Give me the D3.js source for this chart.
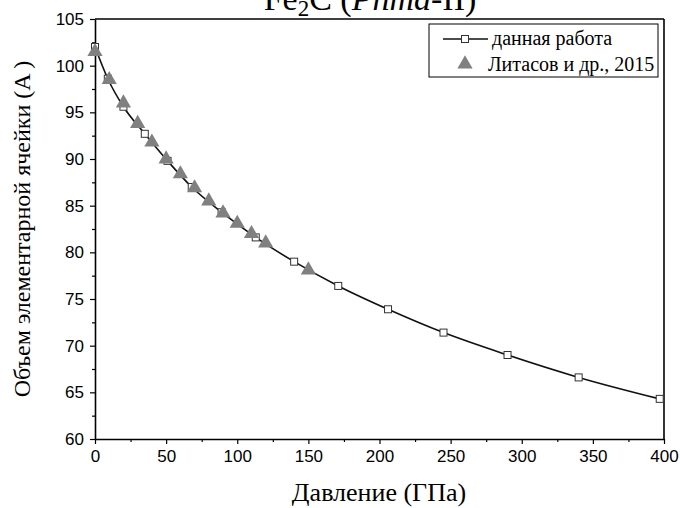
<!DOCTYPE html>
<html>
<head>
<meta charset="utf-8">
<script src="https://cdn.jsdelivr.net/npm/d3@7"></script>
<style>
  body { margin: 0; background: #fff; }
  svg { display: block; }
</style>
</head>
<body>
<svg id="chart"></svg>
<script>
// данная работа (squares + line)
const calcPressure = [0, 9, 20, 35, 51, 68, 89, 113, 140, 171, 206, 245, 290, 340, 397];
const calcVolume   = [102.0, 98.6, 95.6, 92.7, 89.8, 87.0, 84.3, 81.6, 79.0, 76.4, 73.9, 71.4, 69.0, 66.6, 64.3];

// Литасов и др., 2015 (triangles)
const litPressure = [0, 10, 20, 30, 40, 50, 60, 70, 80, 90, 100, 110, 120, 150];
const litVolume   = [101.5, 98.5, 96.0, 93.8, 91.8, 90.0, 88.4, 86.9, 85.5, 84.2, 83.1, 82.0, 81.0, 78.1];

const xTicks = [0, 50, 100, 150, 200, 250, 300, 350, 400];
const yTicks = [60, 65, 70, 75, 80, 85, 90, 95, 100, 105];
const legendLabels = ['данная работа', 'Литасов и др., 2015'];

const W = 680, H = 508;
const margin = { top: 19, right: 16, bottom: 69, left: 95 };
const width = W - margin.left - margin.right;
const height = H - margin.top - margin.bottom;

const svg = d3.select('#chart').attr('width', W).attr('height', H);
const chart = svg.append('g')
    .attr('transform', `translate(${margin.left},${margin.top})`);

const x = d3.scaleLinear().domain([0, 400]).range([0, width]);
const y = d3.scaleLinear().domain([60, 105]).range([height, 0]);

// minor ticks
const xMinor = d3.range(25, 400, 50);
const yMinor = d3.range(62.5, 105, 5);

chart.append('g')
    .attr('transform', `translate(0,${height})`)
    .call(d3.axisBottom(x).tickValues(xMinor).tickSize(3).tickFormat(''))
    .call(g => g.select('.domain').remove())
    .selectAll('line').attr('stroke-width', 1.2);

chart.append('g')
    .call(d3.axisLeft(y).tickValues(yMinor).tickSize(3).tickFormat(''))
    .call(g => g.select('.domain').remove())
    .selectAll('line').attr('stroke-width', 1.2);

// major axes
const xAxisG = chart.append('g')
    .attr('transform', `translate(0,${height})`)
    .call(d3.axisBottom(x).tickValues(xTicks).tickSize(5).tickSizeOuter(0).tickPadding(6));

const yAxisG = chart.append('g')
    .call(d3.axisLeft(y).tickValues(yTicks).tickSize(5).tickSizeOuter(0).tickPadding(6));

[xAxisG, yAxisG].forEach(g => {
    g.select('.domain').attr('stroke-width', 1.6);
    g.selectAll('.tick line').attr('stroke-width', 1.2);
    g.selectAll('.tick text')
        .style('font-family', '"Liberation Sans", Arial, sans-serif')
        .style('font-size', '17px')
        .attr('fill', '#000');
});

// top and right frame
chart.append('line')
    .attr('x1', 0).attr('x2', width).attr('y1', 0).attr('y2', 0)
    .attr('stroke', '#000').attr('stroke-width', 1.6);
chart.append('line')
    .attr('x1', width).attr('x2', width).attr('y1', 0).attr('y2', height)
    .attr('stroke', '#000').attr('stroke-width', 1.6);

// line through calculated points
const calcData = calcPressure.map((p, i) => ({ p: p, v: calcVolume[i] }));
const litData = litPressure.map((p, i) => ({ p: p, v: litVolume[i] }));

const line = d3.line()
    .x(d => x(d.p))
    .y(d => y(d.v))
    .curve(d3.curveMonotoneX);

chart.append('path')
    .datum(calcData)
    .attr('d', line)
    .attr('fill', 'none')
    .attr('stroke', '#111')
    .attr('stroke-width', 1.6);

const sq = 7;
chart.selectAll('rect.calc')
    .data(calcData)
    .enter()
    .append('rect')
    .attr('class', 'calc')
    .attr('x', d => x(d.p) - sq / 2)
    .attr('y', d => y(d.v) - sq / 2)
    .attr('width', sq)
    .attr('height', sq)
    .attr('fill', '#fff')
    .attr('stroke', '#333')
    .attr('stroke-width', 1);

const tri = d3.symbol().type(d3.symbolTriangle).size(100);
chart.selectAll('path.lit')
    .data(litData)
    .enter()
    .append('path')
    .attr('class', 'lit')
    .attr('d', tri)
    .attr('transform', d => `translate(${x(d.p)},${y(d.v)})`)
    .attr('fill', '#808080');

// legend
const legend = svg.append('g').attr('transform', 'translate(429,24)');
legend.append('rect')
    .attr('width', 229).attr('height', 53)
    .attr('fill', '#fff').attr('stroke', '#000').attr('stroke-width', 1);

legend.append('line')
    .attr('x1', 14).attr('x2', 59).attr('y1', 15).attr('y2', 15)
    .attr('stroke', '#111').attr('stroke-width', 1.6);
legend.append('rect')
    .attr('x', 36 - sq / 2).attr('y', 15 - sq / 2)
    .attr('width', sq).attr('height', sq)
    .attr('fill', '#fff').attr('stroke', '#333');
legend.append('path')
    .attr('d', tri)
    .attr('transform', 'translate(36,40)')
    .attr('fill', '#808080');

legend.selectAll('text')
    .data(legendLabels)
    .enter()
    .append('text')
    .attr('x', (d, i) => i === 0 ? 63 : 59)
    .attr('y', (d, i) => i === 0 ? 21 : 47)
    .style('font-family', '"Liberation Serif", "Times New Roman", serif')
    .style('font-size', '20px')
    .text(d => d);

// title (cut off at the top)
const title = svg.append('text')
    .attr('x', 370)
    .attr('y', 10)
    .attr('text-anchor', 'middle')
    .style('font-family', '"Liberation Serif", "Times New Roman", serif')
    .style('font-size', '34px');
title.append('tspan').text('Fe');
title.append('tspan').attr('dy', 6).style('font-size', '23px').text('2');
title.append('tspan').attr('dy', -6).text('C (');
title.append('tspan').style('font-style', 'italic').text('Pnma');
title.append('tspan').text('-II)');

// axis titles
svg.append('text')
    .attr('x', 379)
    .attr('y', 501)
    .attr('text-anchor', 'middle')
    .style('font-family', '"Liberation Serif", "Times New Roman", serif')
    .style('font-size', '26px')
    .text('Давление (ГПа)');

svg.append('text')
    .attr('transform', 'translate(30,229) rotate(-90)')
    .attr('text-anchor', 'middle')
    .style('font-family', '"Liberation Serif", "Times New Roman", serif')
    .style('font-size', '24px')
    .text('Объем элементарной ячейки (A )');
</script>
</body>
</html>
